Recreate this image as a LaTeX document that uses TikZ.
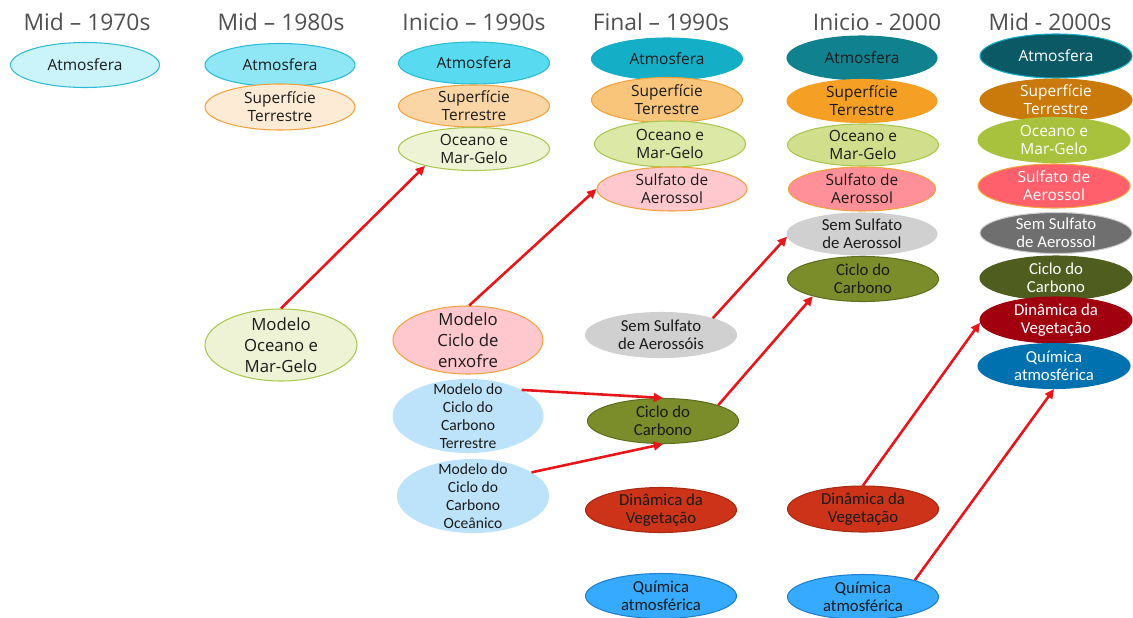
\documentclass[tikz,border=0pt]{standalone}
\usepackage{fontspec}
\setmainfont{Open Sans}
\newfontfamily\segfont{Open Sans}
\newfontfamily\calfont{Carlito}
\usetikzlibrary{shapes.geometric,arrows.meta}
\definecolor{ttlgray}{HTML}{505050}
\definecolor{txt}{HTML}{1A1A1A}
\definecolor{arrred}{HTML}{E8151B}
% borders
\definecolor{bcyan}{HTML}{2DBBD3}
\definecolor{borange}{HTML}{F2A23C}
\definecolor{bgreen}{HTML}{A9C74E}
% fills
\definecolor{atmA}{HTML}{CBF3FA}
\definecolor{atmB}{HTML}{8FE6F4}
\definecolor{atmC}{HTML}{58DBF0}
\definecolor{atmD}{HTML}{14AEC6}
\definecolor{atmE}{HTML}{10828F}
\definecolor{atmF}{HTML}{0C5966}
\definecolor{supB}{HTML}{FDEBD5}
\definecolor{supC}{HTML}{FAD6A6}
\definecolor{supD}{HTML}{F8C57B}
\definecolor{supE}{HTML}{F5A024}
\definecolor{supF}{HTML}{C97A0B}
\definecolor{oceB}{HTML}{EEF3D6}
\definecolor{oceD}{HTML}{DCE8A6}
\definecolor{oceE}{HTML}{D1DE8B}
\definecolor{oceF}{HTML}{A9C23D}
\definecolor{sulC}{HTML}{FFC8CE}
\definecolor{sulE}{HTML}{FF8F98}
\definecolor{sulF}{HTML}{FF606C}
\definecolor{modC}{HTML}{BDE3FB}
\definecolor{semD}{HTML}{D0D0D0}
\definecolor{semF}{HTML}{6F6F6F}
\definecolor{cicD}{HTML}{7B8D2B}
\definecolor{cicB}{HTML}{5F6F1F}
\definecolor{cicF}{HTML}{4F5D1F}
\definecolor{dinD}{HTML}{CC3318}
\definecolor{dinB}{HTML}{A82A12}
\definecolor{dinF}{HTML}{A1000F}
\definecolor{quiD}{HTML}{35AAFF}
\definecolor{quiB}{HTML}{2080CC}
\definecolor{quiF}{HTML}{0071AF}
\tikzset{
  ov/.style n args={4}{ellipse, minimum width=#1*0.03cm, minimum height=#2*0.03cm,
    fill=#3, draw=#4, line width=0.9pt, inner sep=-25pt, align=center, text=txt},
  sg/.style={font=\segfont\fontsize{13.2}{15.4}\selectfont},
  cb/.style={font=\calfont\fontsize{14.3}{15.6}\selectfont},
  cbs/.style={font=\calfont\fontsize{13.3}{15.3}\selectfont},
  big/.style={font=\segfont\fontsize{14.3}{18}\selectfont},
  ttl/.style={font=\segfont\fontsize{19.5}{24}\selectfont, text=ttlgray, inner sep=0pt},
  wt/.style={text=white},
  arr/.style={draw=arrred, line width=2.2pt, -{Triangle[length=8pt,width=7.5pt]}}
}
\begin{document}
\begin{tikzpicture}[x=0.03cm,y=-0.03cm]
\useasboundingbox (0,0) rectangle (1133,617);
\clip (0,0) rectangle (1133,617);
% titles
\node[ttl] (t1) at (87,22) {Mid – 1970s};
\node[ttl] (t2) at (281,22) {Mid – 1980s};
\node[ttl] (t3) at (474,22) {Inicio – 1990s};
\node[ttl] (t4) at (661,22) {Final – 1990s};
\node[ttl] (t5) at (877,22) {Inicio - 2000};
\node[ttl] (t6) at (1050,22) {Mid - 2000s};
% column 1
\node[ov={149}{45}{atmA}{bcyan}, sg] (a1) at (85,65) {Atmosfera};
% column 2
\node[ov={150}{43}{atmB}{bcyan}, sg] (a2) at (280,65) {Atmosfera};
\node[ov={150}{46}{supB}{borange}, sg] (s2) at (280,107) {Superfície\\Terrestre};
\node[ov={152}{72}{oceB}{bgreen}, big] (mo2) at (281,345) {Modelo\\Oceano e\\Mar-Gelo};
% column 3
\node[ov={151}{42}{atmC}{bcyan}, sg] (a3) at (474,63) {Atmosfera};
\node[ov={151}{42}{supC}{borange}, sg] (s3) at (474,106) {Superfície\\Terrestre};
\node[ov={151}{43}{oceB}{bgreen}, sg] (o3) at (474,149) {Oceano e\\Mar-Gelo};
\node[ov={150}{68}{sulC}{borange}, big] (me3) at (468,340) {Modelo\\Ciclo de\\enxofre};
\node[ov={150}{73}{modC}{modC}, cbs] (mt3) at (468,416) {Modelo do\\Ciclo do\\Carbono\\Terrestre};
\node[ov={151}{73}{modC}{modC}, cbs] (mc3) at (473,496) {Modelo do\\Ciclo do\\Carbono\\Oceânico};
% column 4
\node[ov={151}{42}{atmD}{atmD}, sg] (a4) at (667,59) {Atmosfera};
\node[ov={151}{45}{supD}{borange}, sg] (s4) at (667,100) {Superfície\\Terrestre};
\node[ov={151}{46}{oceD}{bgreen}, sg] (o4) at (670,144) {Oceano e\\Mar-Gelo};
\node[ov={150}{44}{sulC}{borange}, sg] (su4) at (672,189) {Sulfato de\\Aerossol};
\node[ov={151}{45}{semD}{semD}, cb] (se4) at (661,335) {Sem Sulfato\\de Aerossóis};
\node[ov={151}{45}{cicD}{cicB}, cb] (c4) at (663,421) {Ciclo do\\Carbono};
\node[ov={151}{45}{dinD}{dinB}, cb] (d4) at (661,510) {Dinâmica da\\Vegetação};
\node[ov={151}{45}{quiD}{quiB}, cb] (q4) at (661,596) {Química\\atmosférica};
% column 5
\node[ov={150}{44}{atmE}{atmE}, sg] (a5) at (862,58) {Atmosfera};
\node[ov={150}{43}{supE}{supE}, sg] (s5) at (862,101) {Superfície\\Terrestre};
\node[ov={151}{42}{oceE}{bgreen}, sg] (o5) at (863,145) {Oceano e\\Mar-Gelo};
\node[ov={147}{44}{sulE}{borange}, sg] (su5) at (862,189) {Sulfato de\\Aerossol};
\node[ov={150}{42}{semD}{semD}, cb] (se5) at (862,234) {Sem Sulfato\\de Aerossol};
\node[ov={151}{45}{cicD}{cicB}, cb] (c5) at (863,279) {Ciclo do\\Carbono};
\node[ov={151}{46}{dinD}{dinB}, cb] (d5) at (863,509) {Dinâmica da\\Vegetação};
\node[ov={151}{45}{quiD}{quiB}, cb] (q5) at (863,597) {Química\\atmosférica};
% column 6
\node[ov={152}{44}{atmF}{atmD}, sg, wt] (a6) at (1056,56) {Atmosfera};
\node[ov={152}{42}{supF}{supF}, sg, wt] (s6) at (1056,100) {Superfície\\Terrestre};
\node[ov={152}{45}{oceF}{oceF}, sg, wt] (o6) at (1054,140) {Oceano e\\Mar-Gelo};
\node[ov={152}{44}{sulF}{borange}, sg, wt] (su6) at (1054,186) {Sulfato de\\Aerossol};
\node[ov={152}{41}{semF}{semD}, cb, wt] (se6) at (1056,233) {Sem Sulfato\\de Aerossol};
\node[ov={152}{44}{cicF}{cicF}, cb, wt] (c6) at (1056,278) {Ciclo do\\Carbono};
\node[ov={152}{46}{dinF}{dinF}, cb, wt] (d6) at (1056,320) {Dinâmica da\\Vegetação};
\node[ov={152}{45}{quiF}{quiF}, cb, wt] (q6) at (1054,366) {Química\\atmosférica};
% arrows
\draw[arr] (mo2.north) -- (o3.199);
\draw[arr] (me3.88) -- (su4.180);
\draw[arr] (mt3.26) -- (c4.north);
\draw[arr] (mc3.22) -- (c4.south);
\draw[arr] (se4.18) -- (se5.182);
\draw[arr] (c4.16) -- (c5.199);
\draw[arr] (d5.north) -- (d6.182);
\draw[arr] (q5.18) -- (q6.south);
\end{tikzpicture}
\end{document}
